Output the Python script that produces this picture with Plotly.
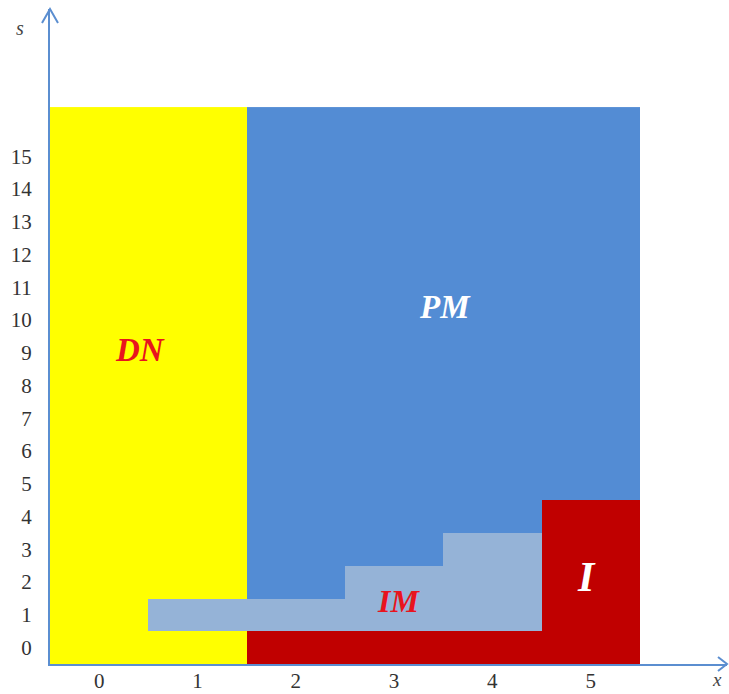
import plotly.graph_objects as go

# ---- data ----
x_vals = [0, 1, 2, 3, 4, 5]
s_vals = list(range(17))          # 0..16
x_ticks = [0, 1, 2, 3, 4, 5]
s_ticks = list(range(16))         # 0..15
region_names = ["DN", "PM", "IM", "I"]
dn_columns = [0, 1]               # columns that are DN (except IM cells)
i_top = [None, None, 0, 0, 0, 4]  # highest s belonging to region I per column
im_bottom = [None, 1, 1, 1, 1, None]
im_top = [None, 1, 1, 2, 3, None]  # highest s belonging to region IM per column

region_colors = ["#ffff00", "#538cd4", "#95b3d7", "#c00000"]

# build category matrix z[s][x]
z = []
for s in s_vals:
    row = []
    for i, x in enumerate(x_vals):
        if im_top[i] is not None and im_bottom[i] <= s <= im_top[i]:
            code = 2
        elif i_top[i] is not None and s <= i_top[i]:
            code = 3
        elif x in dn_columns:
            code = 0
        else:
            code = 1
        row.append(code)
    z.append(row)

n = len(region_colors)
colorscale = []
for k, c in enumerate(region_colors):
    colorscale.append([k / n, c])
    colorscale.append([(k + 1) / n, c])

fig = go.Figure()
fig.add_trace(go.Heatmap(
    x=x_vals, y=s_vals, z=z,
    zmin=-0.5, zmax=n - 0.5,
    colorscale=colorscale, showscale=False,
    hoverinfo="skip", xgap=0, ygap=0,
))

axis_color = "#5b8ed0"
W_PLOT, H_PLOT = 677.0, 655.0
x_range = [-0.5, -0.5 + W_PLOT / 98.3]
y_range = [-0.5, -0.5 + H_PLOT / 32.76]

serif = "Liberation Serif, Times New Roman, serif"

fig.update_layout(
    width=729, height=694,
    margin=dict(l=50, r=2, t=9, b=30, autoexpand=False),
    paper_bgcolor="white", plot_bgcolor="white",
    showlegend=False,
    font=dict(family=serif, size=21, color="#333333"),
    xaxis=dict(range=x_range, tickmode="array", tickvals=x_ticks,
               ticktext=[str(v) for v in x_ticks],
               showgrid=False, zeroline=False, showline=True,
               linecolor=axis_color, linewidth=2, ticks="",
               ticklabelstandoff=-3, fixedrange=True, automargin=False),
    yaxis=dict(range=y_range, tickmode="array", tickvals=s_ticks,
               ticktext=[str(v) for v in s_ticks],
               showgrid=False, zeroline=False, showline=True,
               linecolor=axis_color, linewidth=2, ticks="",
               ticklabelstandoff=12, fixedrange=True, automargin=False),
)

# arrowheads (open V) at axis ends, in paper coords
def px(dx):
    return dx / W_PLOT

def py(dy):
    return dy / H_PLOT

fig.add_shape(type="path", xref="paper", yref="paper",
              path=f"M {px(-8)},{1 - py(14)} L 0,1 L {px(8)},{1 - py(14)}",
              line=dict(color=axis_color, width=2))
fig.add_shape(type="path", xref="paper", yref="paper",
              path=f"M {1 - px(9)},{py(7)} L 1,0 L {1 - px(9)},{py(-7)}",
              line=dict(color=axis_color, width=2))

# region labels
labels = [
    ("DN", 0.42, 9.1, "#e8141e", 33),
    ("PM", 3.52, 10.4, "#ffffff", 33),
    ("IM", 3.05, 1.42, "#e8141e", 32),
    ("I", 4.96, 2.16, "#ffffff", 42),
]
for txt, lx, ly, col, sz in labels:
    fig.add_annotation(x=lx, y=ly, text=f"<b><i>{txt}</i></b>", showarrow=False,
                       font=dict(family=serif, size=sz, color=col),
                       xanchor="center", yanchor="middle")

# axis names
fig.add_annotation(x=-0.044, y=0.971, xref="paper", yref="paper", text="<i>s</i>",
                   showarrow=False, font=dict(family=serif, size=20, color="#444444"),
                   xanchor="center", yanchor="middle")
fig.add_annotation(x=0.985, y=-0.024, xref="paper", yref="paper", text="<i>x</i>",
                   showarrow=False, font=dict(family=serif, size=19, color="#444444"),
                   xanchor="center", yanchor="middle")

fig.write_html("out.html",
               config={"displayModeBar": False},
               post_script="document.body.style.margin='0';document.body.style.overflow='hidden';")
